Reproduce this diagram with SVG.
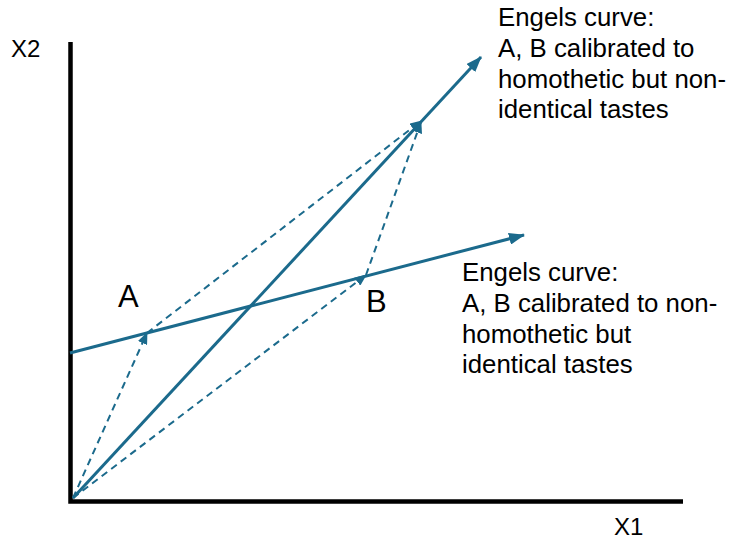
<svg xmlns="http://www.w3.org/2000/svg" width="731" height="541" viewBox="0 0 731 541">
<defs>
<style>
text{font-family:"Liberation Sans",Arial,sans-serif;fill:#000}
.lbl{font-size:25.8px}
.pt{font-size:31px}
.ax{font-size:24px}
.solid{stroke:#1b6a8c;stroke-width:3;fill:none}
.dash{stroke:#1b6a8c;stroke-width:2;stroke-dasharray:7,5;fill:none}
.axis{stroke:#000;stroke-width:4.5;fill:none}
</style>
<marker id="big" markerUnits="userSpaceOnUse" markerWidth="16" markerHeight="12" refX="15" refY="6" orient="auto">
<path d="M0,0 L16,6 L0,12 Z" fill="#1b6a8c"/>
</marker>
<marker id="small" markerUnits="userSpaceOnUse" markerWidth="12" markerHeight="10" refX="11" refY="5" orient="auto">
<path d="M0,0 L12,5 L0,10 Z" fill="#1b6a8c"/>
</marker>
</defs>
<g id="axes">
<path class="axis" d="M70.5,42 V501.5 H683"/>
</g>
<g id="labels">
<text class="ax" x="11" y="57">X2</text>
<text class="ax" x="614" y="535">X1</text>
</g>
<g id="connectors">
<line class="solid" x1="73" y1="498" x2="481" y2="57" marker-end="url(#big)"/>
<line class="solid" x1="70" y1="353" x2="524" y2="235" marker-end="url(#big)"/>
<line class="dash" x1="73" y1="498" x2="147" y2="333" marker-end="url(#small)"/>
<line class="dash" x1="147" y1="333" x2="421" y2="121" marker-end="url(#small)"/>
<line class="dash" x1="73" y1="498" x2="366" y2="275" marker-end="url(#small)"/>
<line class="dash" x1="366" y1="275" x2="421" y2="122" marker-end="url(#small)"/>
</g>
<g id="pointA"><text class="pt" x="118" y="307">A</text></g>
<g id="pointB"><text class="pt" x="366" y="312">B</text></g>
<g id="curve1-label">
<text class="lbl" x="498" y="26">Engels curve:</text>
<text class="lbl" x="498" y="57">A, B calibrated to</text>
<text class="lbl" x="498" y="88">homothetic but non-</text>
<text class="lbl" x="498" y="118">identical tastes</text>
</g>
<g id="curve2-label">
<text class="lbl" x="462" y="281">Engels curve:</text>
<text class="lbl" x="462" y="312">A, B calibrated to non-</text>
<text class="lbl" x="462" y="343">homothetic but</text>
<text class="lbl" x="462" y="373">identical tastes</text>
</g>
</svg>
